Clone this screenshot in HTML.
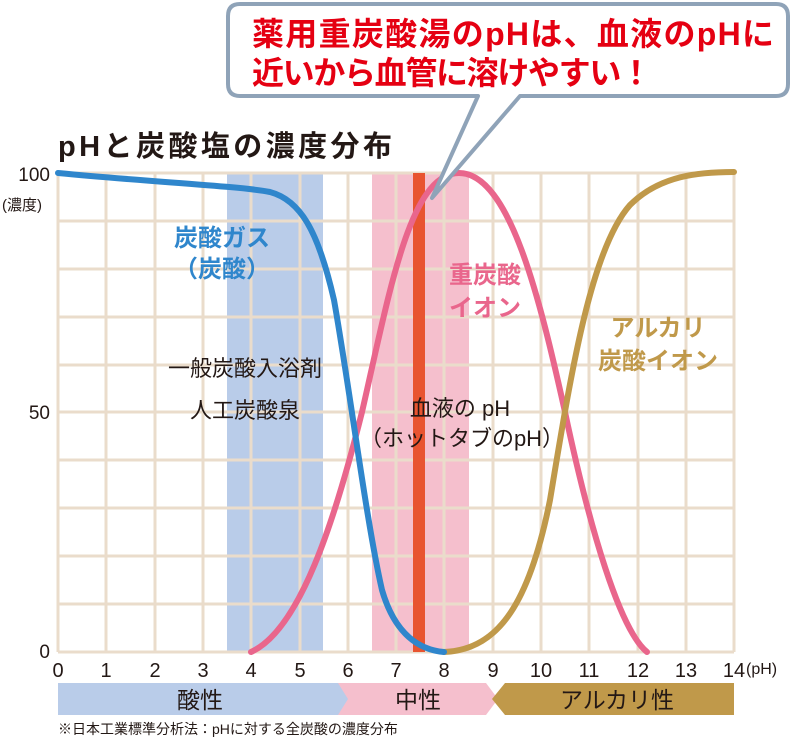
<!DOCTYPE html>
<html><head><meta charset="utf-8"><style>
body{margin:0;background:#fff;}
svg text{font-family:"Liberation Sans","Noto Sans CJK JP",sans-serif;}
</style></head><body>
<svg width="800" height="739" viewBox="0 0 800 739" xmlns="http://www.w3.org/2000/svg">
<rect width="800" height="739" fill="#fff"/>
<rect x="227" y="173" width="96" height="479" fill="#b9cce9"/>
<rect x="372" y="173" width="97" height="479" fill="#f5bfcd"/>
<g stroke="#eadccb" stroke-width="3" fill="none">
<line x1="58" y1="173" x2="734" y2="173"/><line x1="58" y1="221" x2="734" y2="221"/>
<line x1="58" y1="269" x2="734" y2="269"/><line x1="58" y1="317" x2="734" y2="317"/>
<line x1="58" y1="365" x2="734" y2="365"/><line x1="58" y1="412" x2="734" y2="412"/>
<line x1="58" y1="460" x2="734" y2="460"/><line x1="58" y1="508" x2="734" y2="508"/>
<line x1="58" y1="556" x2="734" y2="556"/><line x1="58" y1="604" x2="734" y2="604"/>
<line x1="58" y1="652" x2="734" y2="652"/>
<line x1="58" y1="173" x2="58" y2="652"/><line x1="106" y1="173" x2="106" y2="652"/>
<line x1="155" y1="173" x2="155" y2="652"/><line x1="203" y1="173" x2="203" y2="652"/>
<line x1="251" y1="173" x2="251" y2="652"/><line x1="300" y1="173" x2="300" y2="652"/>
<line x1="348" y1="173" x2="348" y2="652"/><line x1="396" y1="173" x2="396" y2="652"/>
<line x1="444" y1="173" x2="444" y2="652"/><line x1="493" y1="173" x2="493" y2="652"/>
<line x1="541" y1="173" x2="541" y2="652"/><line x1="589" y1="173" x2="589" y2="652"/>
<line x1="638" y1="173" x2="638" y2="652"/><line x1="686" y1="173" x2="686" y2="652"/>
<line x1="734" y1="173" x2="734" y2="652"/>
</g>
<rect x="413" y="173" width="12" height="479" fill="#e85430"/>
<g fill="none" stroke-width="6" stroke-linecap="round">
<path d="M251,652 C300,630 335,520 362,412 C390,290 410,173 459,173 C510,173 540,300 565,412 C590,530 620,630 647,652" stroke="#e9668c"/>
<path d="M444,652 C500,650 530,600 550,500 C570,380 590,250 630,205 C660,175 700,172 734,172" stroke="#c0994a"/>
<path d="M58,173 C150,182 240,186 270,192 C300,200 318,230 334,300 C350,390 366,520 382,590 C395,635 420,650 444,652" stroke="#2f86cc"/>
</g>
<path d="M240,4 H776 Q788,4 788,16 V84 Q788,96 776,96 H520 L432,198 L478,96 H240 Q228,96 228,84 V16 Q228,4 240,4 Z" fill="#fff" stroke="#8fa3b8" stroke-width="4" stroke-linejoin="round"/>
<text x="252" y="45" font-size="32" font-weight="bold" fill="#e50012" textLength="522">薬用重炭酸湯のpHは、血液のpHに</text>
<text x="252" y="84" font-size="32" font-weight="bold" fill="#e50012" textLength="400">近いから血管に溶けやすい！</text>
<text x="58" y="156" font-size="29" font-weight="bold" fill="#231815" textLength="334">pHと炭酸塩の濃度分布</text>
<g font-size="19" fill="#231815">
<text x="50" y="181" text-anchor="end">100</text>
<text x="2" y="210" font-size="15">(濃度)</text>
<text x="50" y="419" text-anchor="end">50</text>
<text x="50" y="658" text-anchor="end">0</text>
</g>
<g font-size="20" fill="#231815" text-anchor="middle">
<text x="58" y="677">0</text><text x="106" y="677">1</text><text x="155" y="677">2</text><text x="203" y="677">3</text><text x="251" y="677">4</text><text x="300" y="677">5</text><text x="348" y="677">6</text><text x="396" y="677">7</text><text x="444" y="677">8</text><text x="493" y="677">9</text><text x="541" y="677">10</text><text x="589" y="677">11</text><text x="638" y="677">12</text><text x="686" y="677">13</text><text x="734" y="677">14</text>
</g>
<text x="746" y="674" font-size="16" fill="#231815">(pH)</text>
<g font-weight="bold" font-size="24" text-anchor="middle">
<text x="222" y="246" fill="#2f86cc">炭酸ガス</text>
<text x="222" y="277" fill="#2f86cc">（炭酸）</text>
<text x="485" y="283" fill="#e9668c">重炭酸</text>
<text x="485" y="316" fill="#e9668c">イオン</text>
<text x="658" y="336" fill="#c0994a">アルカリ</text>
<text x="658" y="369" fill="#c0994a">炭酸イオン</text>
</g>
<g font-size="22" fill="#231815" text-anchor="middle">
<text x="245" y="376">一般炭酸入浴剤</text>
<text x="245" y="418">人工炭酸泉</text>
<text x="460" y="416">血液の pH</text>
<text x="462" y="446">（ホットタブのpH）</text>
</g>
<polygon points="58,683 340,683 350,699 340,715 58,715" fill="#b9cce9"/>
<polygon points="338,683 486,683 498,699 486,715 338,715 348,699" fill="#f5bfcd"/>
<polygon points="505,683 734,683 734,715 505,715 492,699" fill="#c0994a"/>
<g font-size="23" fill="#231815" text-anchor="middle">
<text x="200" y="708">酸性</text>
<text x="418" y="708">中性</text>
<text x="617" y="708">アルカリ性</text>
</g>
<text x="58" y="734" font-size="14" fill="#231815">※日本工業標準分析法：pHに対する全炭酸の濃度分布</text>
</svg>
</body></html>
